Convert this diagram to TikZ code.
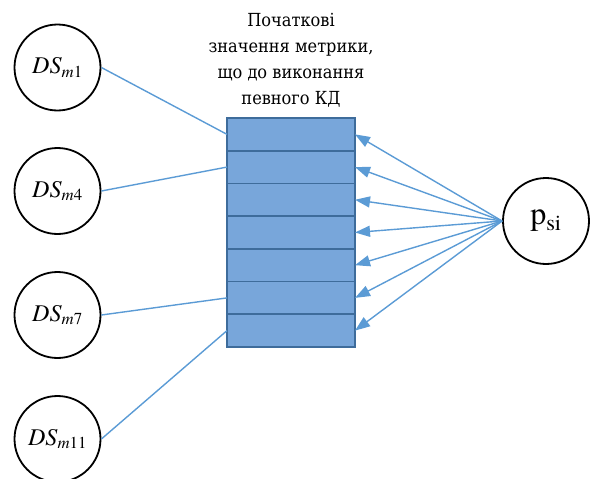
\documentclass[tikz,border=0pt]{standalone}
\usepackage{fontspec}
\IfFontExistsTF{texgyretermes-regular.otf}{%
  \setmainfont{texgyretermes}[Extension=.otf,UprightFont=*-regular,ItalicFont=*-italic,BoldFont=*-bold,BoldItalicFont=*-bolditalic]%
}{\setmainfont{Liberation Serif}}
\IfFontExistsTF{DejaVu Serif Condensed}{%
  \newfontfamily\cyr{DejaVu Serif Condensed}%
}{\newfontfamily\cyr{DejaVu Serif}}
\usetikzlibrary{arrows.meta}
\definecolor{rowfill}{RGB}{120,166,218}
\definecolor{rowedge}{RGB}{62,108,155}
\definecolor{linkblue}{RGB}{91,155,213}
\begin{document}
\begin{tikzpicture}[x=1pt,y=-1pt,
  dscirc/.style={circle,draw=black,line width=1.8pt,minimum size=86pt,inner sep=0pt,
    font=\fontsize{24}{28}\selectfont},
  rowbox/.style={rectangle,draw=rowedge,fill=rowfill,line width=1.8pt,
    minimum width=128pt,minimum height=32.7pt,inner sep=0pt,outer sep=0pt},
  link/.style={draw=linkblue,line width=1.4pt},
  arr/.style={link,-{Triangle[length=15pt,width=11pt]}}
]
\useasboundingbox (0,0) rectangle (590,479);
\node[dscirc] (d1) at (57.5,67.5) {\textit{DS}\textsubscript{\itshape m\upshape 1}};
\node[dscirc] (d4) at (57.5,191) {\textit{DS}\textsubscript{\itshape m\upshape 4}};
\node[dscirc] (d7) at (57.5,315) {\textit{DS}\textsubscript{\itshape m\upshape 7}};
\node[dscirc] (d11) at (57.5,439) {\textit{DS}\textsubscript{\itshape m\upshape 11}};
\node[dscirc] (ps) at (546,221) {\fontsize{32}{36}\selectfont p\textsubscript{si}};
\foreach \i in {1,...,7} {
  \node[rowbox] (r\i) at (291,{118+32.71*(\i-0.5)}) {};
}
\node[align=center,font=\cyr\fontsize{18}{26}\selectfont] (t) at (291,60)
  {Початкові\\значення метрики,\\що до виконання\\певного КД};
\draw[link] (d1.east) -- (r1.west);
\draw[link] (d4.east) -- (r2.west);
\draw[link] (d7.east) -- (r6.west);
\draw[link] (d11.east) -- (r7.west);
\foreach \i in {1,...,7} {
  \draw[arr] (ps.west) -- (r\i.east);
}
\end{tikzpicture}
\end{document}
